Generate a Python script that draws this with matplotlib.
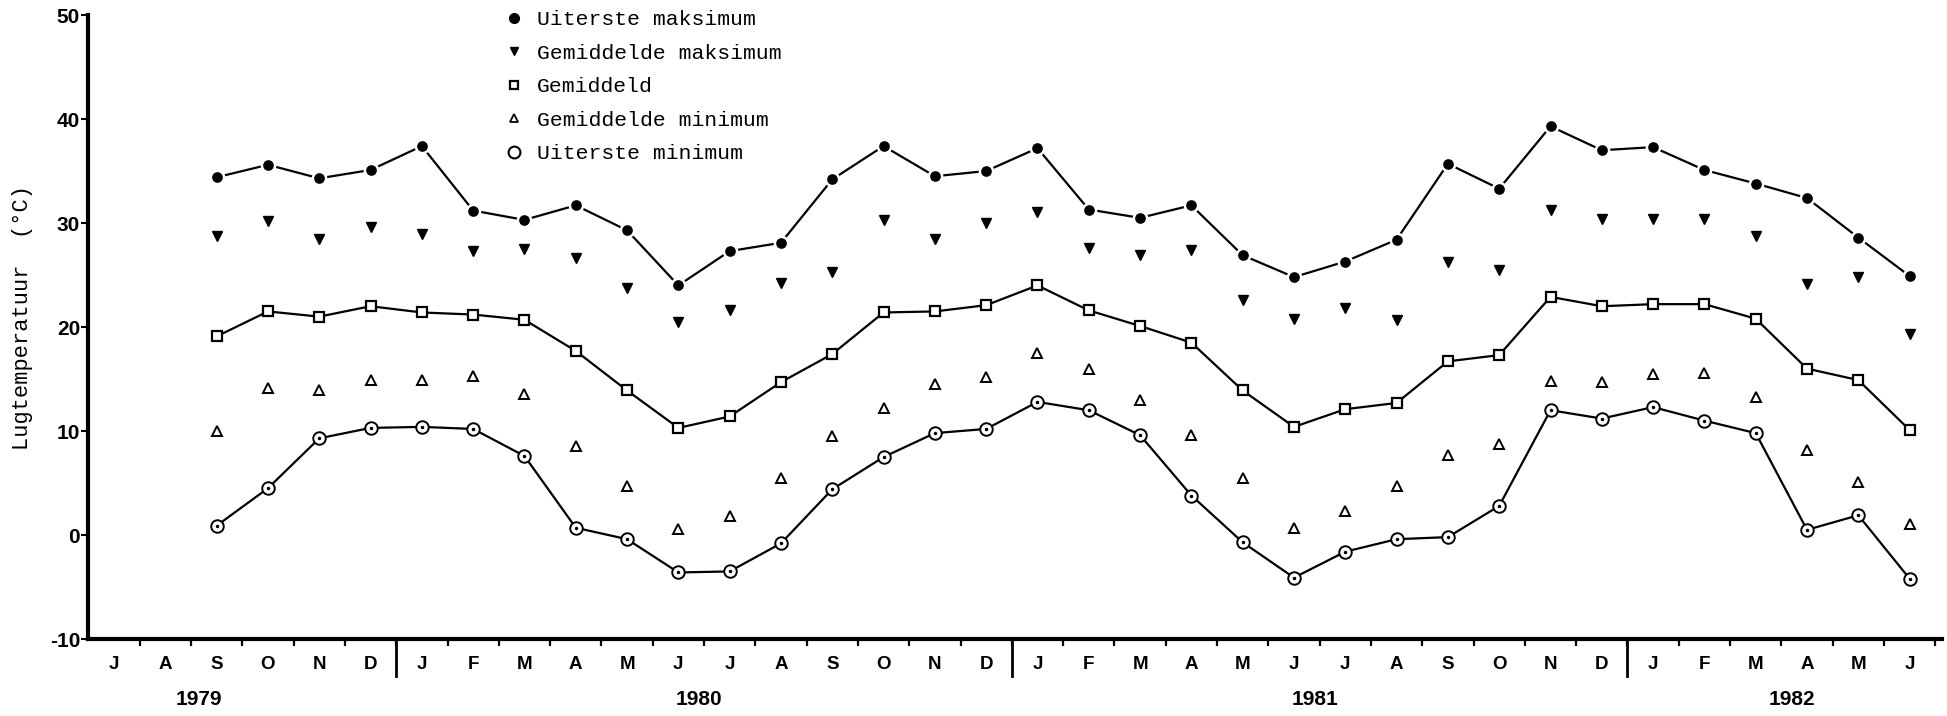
import numpy as np
import matplotlib
matplotlib.use("Agg")
import matplotlib.pyplot as plt
from matplotlib.lines import Line2D

plt.rcParams["axes.unicode_minus"] = False

# months from July 1979 to June 1982
months = ["J", "A", "S", "O", "N", "D", "J", "F", "M", "A", "M", "J",
          "J", "A", "S", "O", "N", "D", "J", "F", "M", "A", "M", "J",
          "J", "A", "S", "O", "N", "D", "J", "F", "M", "A", "M", "J"]
years = ["1979", "1980", "1981", "1982"]
year_pos = [1.65, 11.4, 23.4, 32.7]
year_breaks = [5.5, 17.5, 29.5]

# data starts in September 1979 (month index 2)
first_month = 2
uiterste_maks = [34.4, 35.6, 34.3, 35.1, 37.4, 31.2, 30.3, 31.7, 29.3, 24.0,
                 27.3, 28.1, 34.2, 37.4, 34.5, 35.0, 37.2, 31.3, 30.5, 31.7, 26.9, 24.8,
                 26.3, 28.4, 35.7, 33.3, 39.3, 37.0, 37.3, 35.1, 33.8, 32.4, 28.6, 24.9]
gem_maks = [28.8, 30.2, 28.5, 29.6, 28.9, 27.3, 27.5, 26.6, 23.8, 20.5,
            21.6, 24.2, 25.3, 30.3, 28.5, 30.0, 31.1, 27.6, 26.9, 27.4, 22.6, 20.8,
            21.8, 20.7, 26.3, 25.5, 31.3, 30.4, 30.4, 30.4, 28.8, 24.1, 24.8, 19.3]
gemiddeld = [19.1, 21.5, 21.0, 22.0, 21.4, 21.2, 20.7, 17.7, 13.9, 10.3,
             11.4, 14.7, 17.4, 21.4, 21.5, 22.1, 24.0, 21.6, 20.1, 18.5, 13.9, 10.4,
             12.1, 12.7, 16.7, 17.3, 22.9, 22.0, 22.2, 22.2, 20.8, 16.0, 14.9, 10.1]
gem_min = [10.0, 14.1, 13.9, 14.9, 14.9, 15.3, 13.6, 8.6, 4.7, 0.6,
           1.8, 5.5, 9.5, 12.2, 14.5, 15.2, 17.5, 16.0, 13.0, 9.6, 5.5, 0.7,
           2.3, 4.7, 7.7, 8.8, 14.8, 14.7, 15.5, 15.6, 13.3, 8.2, 5.1, 1.1]
uiterste_min = [0.9, 4.5, 9.3, 10.3, 10.4, 10.2, 7.6, 0.7, -0.4, -3.6,
                -3.5, -0.8, 4.4, 7.5, 9.8, 10.2, 12.8, 12.0, 9.6, 3.8, -0.7, -4.1,
                -1.6, -0.4, -0.2, 2.8, 12.0, 11.2, 12.3, 11.0, 9.8, 0.5, 1.9, -4.2]

labels = ["Uiterste maksimum", "Gemiddelde maksimum", "Gemiddeld",
          "Gemiddelde minimum", "Uiterste minimum"]

sans = ["Liberation Sans", "DejaVu Sans"]
narrow = ["Liberation Sans Narrow", "Liberation Sans", "DejaVu Sans"]
mono = ["Liberation Mono", "DejaVu Sans Mono"]

x = np.arange(first_month, first_month + len(uiterste_maks))

fig = plt.figure(figsize=(19.47, 7.16), dpi=100)
ax = fig.add_axes([0.0454, 0.1075, 0.952, 0.8715])

lw = 1.6
ax.plot(x, uiterste_maks, color="black", lw=lw, marker="o", markersize=9.5,
        markerfacecolor="black", markeredgecolor="white", markeredgewidth=1.8, zorder=3)
ax.plot(x, gem_maks, linestyle="none", marker="v", markersize=7.5,
        color="black", zorder=3)
ax.plot(x, gemiddeld, color="black", lw=lw, marker="s", markersize=7,
        markerfacecolor="white", markeredgecolor="black", markeredgewidth=1.6, zorder=3)
ax.plot(x, gem_min, linestyle="none", marker="^", markersize=7,
        markerfacecolor="white", markeredgecolor="black", markeredgewidth=1.4, zorder=3)
ax.plot(x, uiterste_min, color="black", lw=lw, marker="o", markersize=9,
        markerfacecolor="white", markeredgecolor="black", markeredgewidth=1.4, zorder=3)
ax.plot(x, uiterste_min, linestyle="none", marker="o", markersize=1.5,
        color="black", zorder=4)

ax.set_xlim(-0.5, 35.63)
ax.set_ylim(-10, 50)

for side in ["top", "right"]:
    ax.spines[side].set_visible(False)
ax.spines["left"].set_linewidth(3)
ax.spines["bottom"].set_linewidth(3)

# y axis
ax.set_yticks(np.arange(-10, 51, 10))
ax.tick_params(axis="y", direction="out", length=5, width=1.5, pad=1)
for t in ax.get_yticklabels():
    t.set_family(narrow)
    t.set_fontweight("bold")
    t.set_fontsize(15)

# x axis: month letters centred, ticks on month boundaries
ax.set_xticks(np.arange(len(months)))
ax.set_xticklabels(months, family=sans, fontweight="bold", fontsize=13.5)
ax.set_xticks(np.arange(len(months)) + 0.5, minor=True)
ax.tick_params(axis="x", which="major", length=0, pad=12)
ax.tick_params(axis="x", which="minor", direction="out", length=5, width=1.6)

trans = ax.get_xaxis_transform()
for b in year_breaks:
    ax.plot([b, b], [0, -0.059], color="black", lw=2, transform=trans, clip_on=False)
for yr, xp in zip(years, year_pos):
    ax.text(xp, -0.097, yr, transform=trans, ha="center", va="center",
            family=narrow, fontweight="bold", fontsize=15)

fig.text(0.0118, 0.557, "Lugtemperatuur  (°C)", rotation=90, ha="center", va="center",
         family=mono, fontsize=15.8)

handles = [
    Line2D([], [], linestyle="none", marker="o", markersize=7, color="black"),
    Line2D([], [], linestyle="none", marker="v", markersize=6, color="black"),
    Line2D([], [], linestyle="none", marker="s", markersize=5.5,
           markerfacecolor="white", markeredgecolor="black", markeredgewidth=1.6),
    Line2D([], [], linestyle="none", marker="^", markersize=5.5,
           markerfacecolor="white", markeredgecolor="black", markeredgewidth=1.3),
    Line2D([], [], linestyle="none", marker="o", markersize=8.5,
           markerfacecolor="white", markeredgecolor="black", markeredgewidth=1.5),
]
leg = fig.legend(handles, labels, loc="upper left", bbox_to_anchor=(0.2583, 0.986),
                 frameon=False, handlelength=1.0, handletextpad=0.6, labelspacing=0.68,
                 borderpad=0, borderaxespad=0, prop={"family": mono, "size": 15.4})

fig.savefig("out.png", dpi=100)
